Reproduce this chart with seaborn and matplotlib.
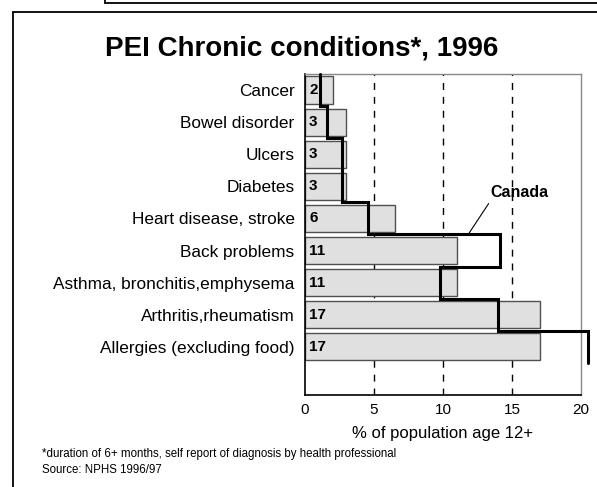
import numpy as np
import pandas as pd
import matplotlib
matplotlib.use("Agg")
import matplotlib.pyplot as plt
import seaborn as sns
from matplotlib.lines import Line2D

categories = ["Cancer", "Bowel disorder", "Ulcers", "Diabetes", "Heart disease, stroke",
              "Back problems", "Asthma, bronchitis,emphysema", "Arthritis,rheumatism",
              "Allergies (excluding food)"]
pei_values = [2.0, 3.0, 2.95, 3.0, 6.5, 11.0, 11.0, 17.0, 17.0]
bar_labels = ["2", "3", "3", "3", "6", "11", "11", "17", "17"]
canada_values = [1.1, 1.6, 2.7, 2.7, 4.6, 14.1, 9.8, 14.0, 20.5]
x_ticks = [0, 5, 10, 15, 20]

sns.set_theme(style="white")
plt.rcParams["font.family"] = ["Liberation Sans", "DejaVu Sans"]
plt.rcParams["text.color"] = "black"
plt.rcParams["xtick.color"] = "black"
plt.rcParams["ytick.color"] = "black"
plt.rcParams["axes.labelcolor"] = "black"

fig = plt.figure(figsize=(5.97, 4.87), dpi=100)
ax = fig.add_axes([305/597, 1-395/487, (581-305)/597, (395-74)/487])

df = pd.DataFrame({"cat": categories, "val": pei_values})
for x in [5, 10, 15]:
    ax.axvline(x, color="black", lw=1.0, ls=(0, (5, 5)), zorder=0)

sns.barplot(data=df, y="cat", x="val", order=categories, color="#e0e0e0",
            saturation=1, edgecolor="#505050", linewidth=1.0, width=0.85, ax=ax, zorder=2)

for i, lab in enumerate(bar_labels):
    ax.text(0.3, i, lab, ha="left", va="center", fontsize=11, fontweight="bold",
            color="black", zorder=4)

# Canada step line
ys = np.arange(len(categories))
step_x = np.repeat(canada_values, 2)
step_y = np.column_stack([ys - 0.5, ys + 0.5]).ravel()
ax.plot(step_x, step_y, color="black", lw=2.2, clip_on=False, zorder=5,
        solid_joinstyle="miter")

ax.annotate("Canada", xy=(11.9, 4.45), xytext=(13.4, 3.2), fontsize=11.5,
            fontweight="bold", ha="left", va="center",
            arrowprops=dict(arrowstyle="-", color="black", lw=0.8,
                            shrinkA=0, shrinkB=0, relpos=(0.05, 0.2)))

ax.set_xlim(0, 20)
ax.set_ylim(9.5, -0.5)
ax.set_xticks(x_ticks)
ax.set_xticklabels([str(t) for t in x_ticks], fontsize=11)
ax.set_yticks(ys)
ax.set_yticklabels(categories, fontsize=12.4)
ax.set_ylabel("")
ax.set_xlabel("% of population age 12+", fontsize=12, labelpad=6)
ax.tick_params(axis="x", direction="in", length=7, width=0.8, color="#555555", pad=6)
ax.tick_params(axis="y", length=0, pad=7.5)
ax.set_yticks(np.arange(-0.5, 9.0, 1.0), minor=True)
ax.tick_params(axis="y", which="minor", direction="in", length=5, width=0.8, color="black")

for s in ["left", "bottom"]:
    ax.spines[s].set_color("black")
    ax.spines[s].set_linewidth(1.2)
for s in ["top", "right"]:
    ax.spines[s].set_color("#888888")
    ax.spines[s].set_linewidth(1.0)

fig.text(0.505, 1-48/487, "PEI Chronic conditions*, 1996", ha="center", va="center",
         fontsize=20, fontweight="bold")
fig.text(42/597, 1-454/487, "*duration of 6+ months, self report of diagnosis by health professional",
         fontsize=8.3, va="center")
fig.text(42/597, 1-470/487, "Source: NPHS 1996/97", fontsize=8.3, va="center")

# slide frames
W, H = 597, 487
def fl(xs, ys_):
    fig.add_artist(Line2D([x/W for x in xs], [1-y/H for y in ys_], color="black",
                          lw=1.3, transform=fig.transFigure))
fl([12.5, 12.5], [487, 11.5])
fl([12.5, 597], [11.5, 11.5])
fl([105, 105], [0, 3])
fl([105, 597], [3, 3])

fig.savefig("out.png", dpi=100)
